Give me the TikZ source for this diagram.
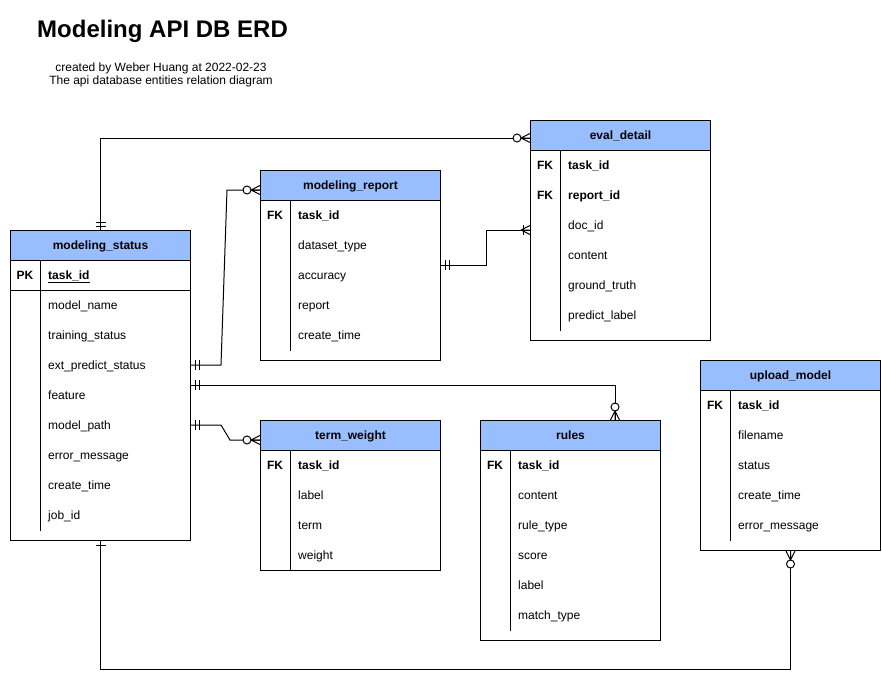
\documentclass[tikz,border=0pt]{standalone}
\usepackage{fontspec}
\setmainfont{Liberation Sans}
\usetikzlibrary{calc}
\definecolor{hdrblue}{RGB}{153,190,255}
\newcommand\erdtable[5]{% name, x, y, height, title
  \node[tblbox, minimum height=#4, anchor=north west] (#1) at (#2,#3) {};
  \node[tblhead, anchor=north west] (#1-head) at (#2,#3) {#5};
}
\newcommand\erdrow[4]{% table, row index, key, field
  \node[keytxt] at ($(#1.north west)+(15,{15+30*#2})$) {#3};
  \node[fieldtxt] at ($(#1.north west)+(38,{15+30*#2})$) {#4};
}
\newcommand\erddiv[2]{% table, gap at bottom
  \draw[tblline] ($(#1.north west)+(30,30)$) -- ($(#1.south west)+(30,-#2)$);
}
\begin{document}
\begin{tikzpicture}[x=1pt,y=-1pt,
  txt/.style={font=\fontsize{12}{14}\selectfont, inner sep=0pt, text height=8.6, text depth=0},
  tblline/.style={line width=1pt, draw=black},
  tblbox/.style={tblline, fill=white, minimum width=180, inner sep=0pt},
  tblhead/.style={tblline, fill=hdrblue, minimum width=180, minimum height=30, inner sep=0pt, text height=8.6, text depth=0, font=\fontsize{12}{14}\selectfont\bfseries},
  keytxt/.style={txt, font=\fontsize{12}{14}\selectfont\bfseries},
  fieldtxt/.style={txt, anchor=west},
  conn/.style={line width=1pt, draw=black},
  zmany/.pic={\draw[conn] (9,0)--(0,4.5) (9,0)--(0,0) (9,0)--(0,-4.5); \draw[conn, fill=white] (13,0) circle (4);},
  omany/.pic={\draw[conn] (9,0)--(0,4.5) (9,0)--(0,0) (9,0)--(0,-4.5); \draw[conn] (7,-5)--(7,5);},
  mone/.pic={\draw[conn] (4,-5)--(4,5) (8,-5)--(8,5);},
  oneb/.pic={\draw[conn] (4.5,-5)--(4.5,5);}
]
\useasboundingbox (0,0) rectangle (882,680);

% title
\node[inner sep=0pt, anchor=west, font=\fontsize{24}{28}\selectfont\bfseries, text height=17.2, text depth=0] (title) at (37,29) {Modeling API DB ERD};
\node[txt, align=center, font=\fontsize{12}{13}\selectfont, text height=, text depth=] (sub) at (161,74.5) {created by Weber Huang at 2022-02-23\\The api database entities relation diagram};

% modeling_status
\erdtable{ms}{10}{230}{310}{modeling\_status}
\erddiv{ms}{10}
\draw[tblline] ($(ms.north west)+(0,60)$) -- ($(ms.north east)+(0,60)$);
\erdrow{ms}{1}{PK}{\textbf{\underline{task\_id}}}
\erdrow{ms}{2}{}{model\_name}
\erdrow{ms}{3}{}{training\_status}
\erdrow{ms}{4}{}{ext\_predict\_status}
\erdrow{ms}{5}{}{feature}
\erdrow{ms}{6}{}{model\_path}
\erdrow{ms}{7}{}{error\_message}
\erdrow{ms}{8}{}{create\_time}
\erdrow{ms}{9}{}{job\_id}

% modeling_report
\erdtable{mr}{260}{170}{190}{modeling\_report}
\erddiv{mr}{10}
\erdrow{mr}{1}{FK}{\textbf{task\_id}}
\erdrow{mr}{2}{}{dataset\_type}
\erdrow{mr}{3}{}{accuracy}
\erdrow{mr}{4}{}{report}
\erdrow{mr}{5}{}{create\_time}

% eval_detail
\erdtable{ed}{530}{120}{220}{eval\_detail}
\erddiv{ed}{10}
\erdrow{ed}{1}{FK}{\textbf{task\_id}}
\erdrow{ed}{2}{FK}{\textbf{report\_id}}
\erdrow{ed}{3}{}{doc\_id}
\erdrow{ed}{4}{}{content}
\erdrow{ed}{5}{}{ground\_truth}
\erdrow{ed}{6}{}{predict\_label}

% term_weight
\erdtable{tw}{260}{420}{150}{term\_weight}
\erddiv{tw}{0}
\erdrow{tw}{1}{FK}{\textbf{task\_id}}
\erdrow{tw}{2}{}{label}
\erdrow{tw}{3}{}{term}
\erdrow{tw}{4}{}{weight}

% rules
\erdtable{ru}{480}{420}{220}{rules}
\erddiv{ru}{10}
\erdrow{ru}{1}{FK}{\textbf{task\_id}}
\erdrow{ru}{2}{}{content}
\erdrow{ru}{3}{}{rule\_type}
\erdrow{ru}{4}{}{score}
\erdrow{ru}{5}{}{label}
\erdrow{ru}{6}{}{match\_type}

% upload_model
\erdtable{up}{700}{360}{190}{upload\_model}
\erddiv{up}{10}
\erdrow{up}{1}{FK}{\textbf{task\_id}}
\erdrow{up}{2}{}{filename}
\erdrow{up}{3}{}{status}
\erdrow{up}{4}{}{create\_time}
\erdrow{up}{5}{}{error\_message}

% connectors
\draw[conn] (ms.north) |- ($(ed.north west)+(0,18)$);
\draw[conn] ($(ms.north east)+(0,135)$) -- ++(30,0) -- ($(mr.north west)+(-33,20)$) -- ($(mr.north west)+(0,20)$);
\draw[conn] ($(mr.north east)+(0,95)$) -- ++(45,0) |- ($(ed.north west)+(0,110)$);
\draw[conn] ($(ms.north east)+(0,155)$) -| ($(ru.north west)+(135,0)$);
\draw[conn] ($(ms.north east)+(0,195)$) -- ++(30,0) -- ($(tw.north west)+(-30,20)$) -- ($(tw.north west)+(0,20)$);
\draw[conn] (ms.south) -- ++(0,128) -| (up.south);

% end markers
\pic[rotate=90] at (ms.north) {mone};
\pic[rotate=180] at ($(ed.north west)+(0,18)$) {zmany};
\pic at ($(ms.north east)+(0,135)$) {mone};
\pic[rotate=180] at ($(mr.north west)+(0,20)$) {zmany};
\pic at ($(mr.north east)+(0,95)$) {mone};
\pic[rotate=180] at ($(ed.north west)+(0,110)$) {omany};
\pic at ($(ms.north east)+(0,155)$) {mone};
\pic[rotate=90] at ($(ru.north west)+(135,0)$) {zmany};
\pic at ($(ms.north east)+(0,195)$) {mone};
\pic[rotate=180] at ($(tw.north west)+(0,20)$) {zmany};
\pic[rotate=-90] at (ms.south) {oneb};
\pic[rotate=-90] at (up.south) {zmany};
\end{tikzpicture}
\end{document}
